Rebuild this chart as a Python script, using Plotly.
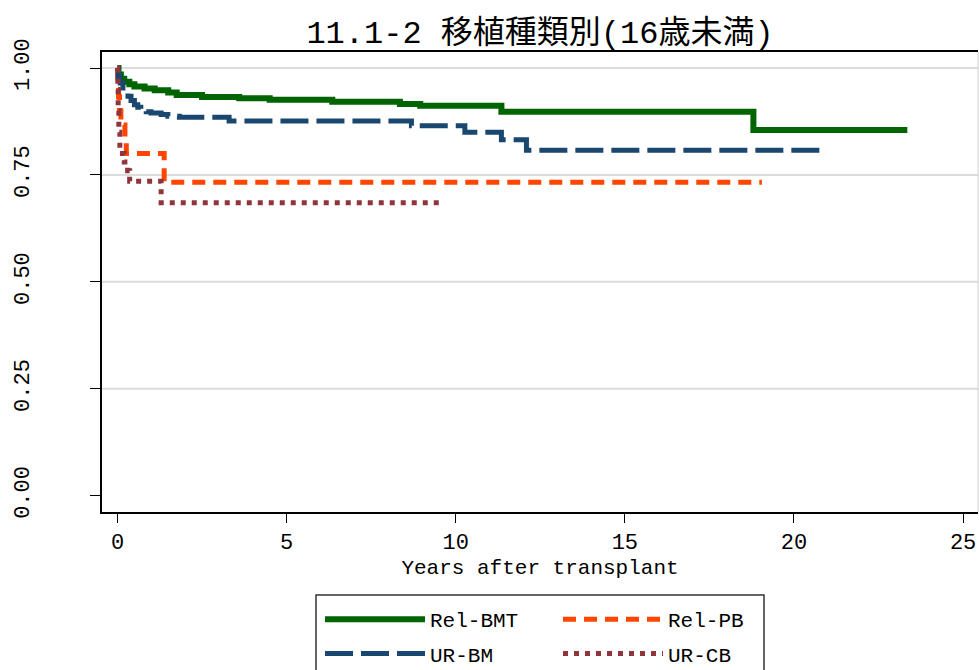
import plotly.graph_objects as go

# ---- data ----
rel_bmt_t = [0, 0.03, 0.1, 0.2, 0.35, 0.5, 0.8, 1.1, 1.5, 1.75, 2.5, 3.6, 4.5, 6.35, 8.35, 8.95, 11.35, 18.8, 23.35]
rel_bmt_s = [1.0, 0.985, 0.975, 0.968, 0.962, 0.957, 0.952, 0.948, 0.943, 0.937, 0.932, 0.929, 0.926, 0.921, 0.916, 0.912, 0.898, 0.855, 0.855]

rel_pb_t = [0, 0.01, 0.03, 0.06, 0.1, 0.22, 0.26, 1.38, 19.05]
rel_pb_s = [1.0, 0.967, 0.933, 0.9, 0.867, 0.833, 0.8, 0.733, 0.733]

ur_bm_t = [0, 0.02, 0.08, 0.16, 0.25, 0.31, 0.4, 0.5, 0.6, 0.69, 0.85, 0.99, 1.29, 1.49, 1.83, 3.3, 8.69, 10.27, 11.35, 12.09, 20.83]
ur_bm_s = [1.0, 0.98, 0.965, 0.953, 0.942, 0.934, 0.924, 0.914, 0.908, 0.903, 0.898, 0.895, 0.891, 0.887, 0.885, 0.876, 0.865, 0.850, 0.832, 0.808, 0.808]

ur_cb_t = [0, 0.01, 0.02, 0.04, 0.07, 0.2, 0.3, 0.36, 1.29, 9.62]
ur_cb_s = [1.0, 0.95, 0.9, 0.85, 0.8, 0.78, 0.76, 0.735, 0.685, 0.685]

series_names = ["Rel-BMT", "Rel-PB", "UR-BM", "UR-CB"]
x_ticks = [0, 5, 10, 15, 20, 25]
y_ticks = [0.0, 0.25, 0.5, 0.75, 1.0]
y_tick_labels = ["0.00", "0.25", "0.50", "0.75", "1.00"]
title_text = "11.1-2 移植種類別(16歳未満)"
x_title = "Years after transplant"

MONO = "Liberation Mono, Noto Sans CJK JP, monospace"

styles = [
    dict(color="#006400", width=6, dash="solid"),
    dict(color="#ff4500", width=5, dash="13px,8px"),
    dict(color="#1a476f", width=5, dash="28px,8px"),
    dict(color="#90353b", width=5, dash="5px,6px"),
]
legend_ids = ["legend", "legend2", "legend", "legend2"]
data = [(rel_bmt_t, rel_bmt_s), (rel_pb_t, rel_pb_s), (ur_bm_t, ur_bm_s), (ur_cb_t, ur_cb_s)]

fig = go.Figure()
for name, (t, s), st, lg in zip(series_names, data, styles, legend_ids):
    fig.add_trace(go.Scatter(x=t, y=s, mode="lines", name=name, line_shape="hv", line=st,
                             legend=lg, legendgroup=name))

W, H = 979, 670
ML, MR, MT, MB = 102, 1, 52, 158
PW, PH = W - ML - MR, H - MT - MB


def px_x(p):
    return (p - ML) / PW


def px_y(p):
    return (H - MB - p) / PH


# gridlines (not at 0)
shapes = []
for v in y_ticks:
    if v > 0:
        shapes.append(dict(type="line", xref="paper", x0=0, x1=1, yref="y", y0=v, y1=v,
                           line=dict(color="#dcdcdc", width=2), layer="below"))
shapes.append(dict(type="line", xref="paper", x0=1, x1=1, yref="paper", y0=0, y1=1,
                   line=dict(color="#d0d0d0", width=1)))
# legend frame
shapes.append(dict(type="rect", xref="paper", yref="paper",
                   x0=px_x(316), x1=px_x(764), y0=px_y(595), y1=px_y(700),
                   line=dict(color="#333333", width=1.5), fillcolor="rgba(0,0,0,0)"))

leg_common = dict(orientation="v", yanchor="top", xanchor="left", y=px_y(599),
                  bgcolor="rgba(0,0,0,0)", borderwidth=0, itemwidth=100, tracegroupgap=4,
                  font=dict(family=MONO, size=21, color="black"))

fig.update_layout(
    width=W, height=H,
    margin=dict(l=ML, r=MR, t=MT, b=MB, autoexpand=False),
    paper_bgcolor="white", plot_bgcolor="white",
    title=dict(text=title_text, x=0.5, xref="paper", xanchor="center",
               y=(H - 32) / H, yref="container", yanchor="middle",
               font=dict(family="Liberation Mono, Noto Sans CJK JP", size=32, color="black")),
    shapes=shapes,
    showlegend=True,
    legend=dict(x=px_x(320), **leg_common),
    legend2=dict(x=px_x(558), **leg_common),
    xaxis=dict(range=[-0.458, 25.44], tickvals=x_ticks, ticks="outside", ticklen=9, tickwidth=1,
               tickcolor="black", showline=True, linecolor="black", linewidth=2, mirror=True,
               showgrid=False, zeroline=False,
               tickfont=dict(family=MONO, size=22, color="black"),
               title=dict(text=x_title, font=dict(family=MONO, size=21, color="black"), standoff=4)),
    yaxis=dict(range=[-0.038, 1.0374], tickvals=y_ticks, ticktext=y_tick_labels, tickangle=-90,
               ticks="outside", ticklen=10, tickwidth=1, tickcolor="black",
               showline=True, linecolor="black", linewidth=2, showgrid=False, zeroline=False,
               ticklabelstandoff=52,
               tickfont=dict(family=MONO, size=22, color="black")),
)

fig.write_html("out.html", config={"displayModeBar": False},
               post_script="document.body.style.margin='0';document.body.style.overflow='hidden';")
